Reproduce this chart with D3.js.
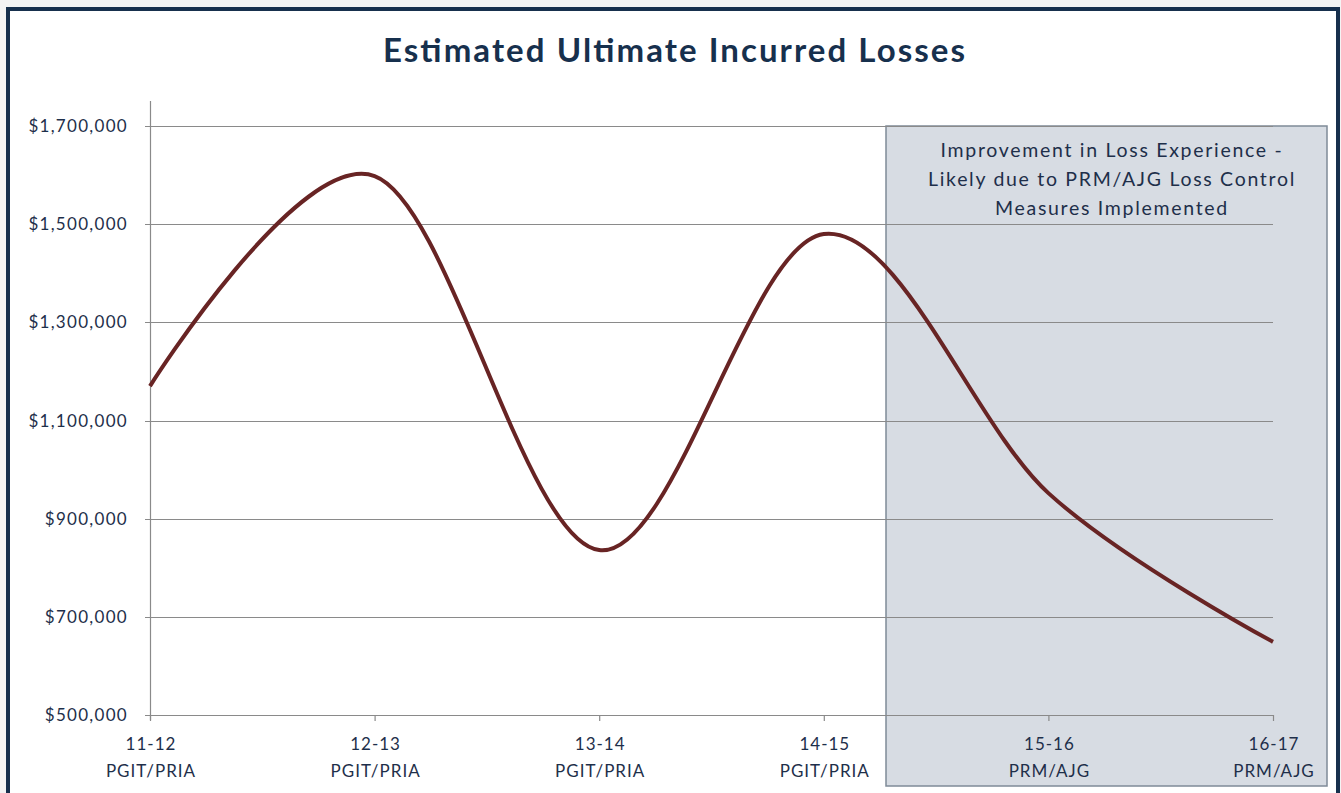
<!DOCTYPE html>
<html>
<head>
<meta charset="utf-8">
<script src="https://cdn.jsdelivr.net/npm/d3@7"></script>
<style>
  html, body { margin: 0; padding: 0; background: #f4f4f4; }
  svg { display: block; }
</style>
</head>
<body>
<svg id="chart" width="1341" height="793"></svg>
<script>
// Policy years and pool administrators
const categories = ["11-12", "12-13", "13-14", "14-15", "15-16", "16-17"];
const programs = ["PGIT/PRIA", "PGIT/PRIA", "PGIT/PRIA", "PGIT/PRIA", "PRM/AJG", "PRM/AJG"];
// Estimated ultimate incurred losses (USD)
const losses = [1170000, 1598000, 836000, 1480000, 952000, 649000];
const yTicks = [500000, 700000, 900000, 1100000, 1300000, 1500000, 1700000];
const noteLines = ["Improvement in Loss Experience -", "Likely due to PRM/AJG Loss Control", "Measures Implemented"];

const svg = d3.select("#chart");
const W = 1341, H = 793;
const navy = "#17304d";
const textColor = "#1e2f4a";
const font = "Lato, 'Open Sans', sans-serif";

// Frame
svg.append("rect").attr("x", 8).attr("y", 9).attr("width", W - 8 - 3).attr("height", H)
  .attr("fill", "#ffffff").attr("stroke", navy).attr("stroke-width", 4);

const plot = { left: 150, right: 1273, top: 126, bottom: 715 };

const x = d3.scalePoint().domain(categories).range([plot.left, plot.right]);
const y = d3.scaleLinear().domain([500000, 1700000]).range([plot.bottom, plot.top]);

// Shaded region for the PRM/AJG years
svg.append("rect")
  .attr("x", 886).attr("y", y(1700000))
  .attr("width", 1327 - 886).attr("height", 786 - y(1700000))
  .attr("fill", "#d7dce3").attr("stroke", "#7f8b98").attr("stroke-width", 1.5);

// Gridlines
svg.append("g").selectAll("line").data(yTicks).join("line")
  .attr("x1", plot.left - 5).attr("x2", plot.right)
  .attr("y1", d => Math.round(y(d)) + 0.5).attr("y2", d => Math.round(y(d)) + 0.5)
  .attr("stroke", "#8a8a8a").attr("stroke-width", 1.2);

// Y axis line
svg.append("line")
  .attr("x1", plot.left + 0.5).attr("x2", plot.left + 0.5)
  .attr("y1", 101).attr("y2", plot.bottom + 5)
  .attr("stroke", "#8a8a8a").attr("stroke-width", 1.2);

// X ticks
svg.append("g").selectAll("line").data(categories).join("line")
  .attr("x1", d => x(d) + 0.5).attr("x2", d => x(d) + 0.5)
  .attr("y1", plot.bottom).attr("y2", plot.bottom + 6)
  .attr("stroke", "#8a8a8a").attr("stroke-width", 1.2);

// Y tick labels
const fmt = d3.format("$,");
svg.append("g").selectAll("text").data(yTicks).join("text")
  .attr("x", 128).attr("y", d => y(d) + 6)
  .attr("text-anchor", "end")
  .attr("font-family", font).attr("font-size", 17).attr("fill", textColor)
  .attr("letter-spacing", 1.3)
  .text(d => fmt(d));

// X tick labels (two lines)
const xl = svg.append("g").selectAll("text").data(categories).join("text")
  .attr("text-anchor", "middle")
  .attr("font-family", font).attr("font-size", 17).attr("fill", textColor)
  .attr("letter-spacing", 1);
xl.append("tspan").attr("x", d => x(d) + 1).attr("y", 750).text(d => d);
xl.append("tspan").attr("x", d => x(d) + 1).attr("y", 777).text((d, i) => programs[i]);

// Note text
svg.append("g").selectAll("text").data(noteLines).join("text")
  .attr("x", 1112).attr("y", (d, i) => 157 + i * 29)
  .attr("text-anchor", "middle")
  .attr("font-family", font).attr("font-size", 19.5).attr("fill", textColor)
  .attr("letter-spacing", 1.7)
  .text(d => d);

// Smoothed loss line
const line = d3.line()
  .x((d, i) => x(categories[i]))
  .y(d => y(d))
  .curve(d3.curveCardinal.tension(0));
svg.append("path").datum(losses)
  .attr("d", line)
  .attr("fill", "none").attr("stroke", "#682424").attr("stroke-width", 4)
  .attr("stroke-linejoin", "round");

// Title
svg.append("text")
  .attr("x", 674).attr("y", 62)
  .attr("text-anchor", "middle")
  .attr("font-family", font).attr("font-weight", "bold").attr("font-size", 33)
  .attr("fill", navy)
  .attr("textLength", 582).attr("lengthAdjust", "spacing")
  .text("Estimated Ultimate Incurred Losses");
</script>
</body>
</html>
